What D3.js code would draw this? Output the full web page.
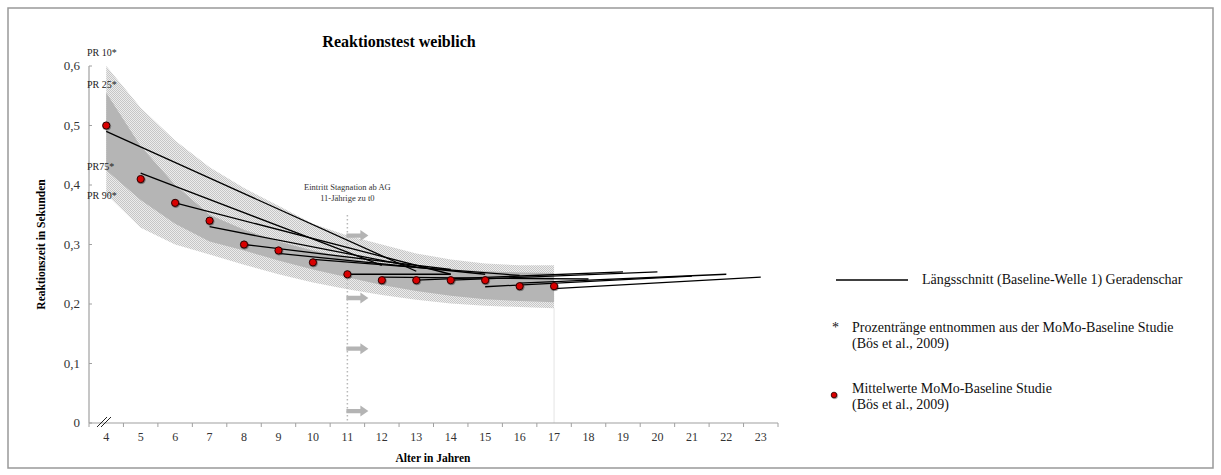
<!DOCTYPE html>
<html>
<head>
<meta charset="utf-8">
<script src="https://cdn.jsdelivr.net/npm/d3@7/dist/d3.min.js"></script>
<style>
  body { margin: 0; background: #fff; }
  svg { display: block; }
  svg text { font-family: "Liberation Serif", "DejaVu Serif", serif; }
</style>
</head>
<body>
<svg id="chart" width="1221" height="475"></svg>
<script>
// Reaktionstest weiblich — Perzentilbänder, Mittelwerte, Geradenschar

const ageLabels = ['4', '5', '6', '7', '8', '9', '10', '11', '12', '13', '14', '15', '16', '17', '18', '19', '20', '21', '22', '23']
const yTicks = [0, 0.1, 0.2, 0.3, 0.4, 0.5, 0.6]

// Prozentränge (MoMo-Baseline), Alter 4..17
const bandAges = [4, 5, 6, 7, 8, 9, 10, 11, 12, 13, 14, 15, 16, 17]
const pr10 = [0.60, 0.53, 0.475, 0.43, 0.395, 0.365, 0.335, 0.315, 0.30, 0.285, 0.275, 0.268, 0.265, 0.265]
const pr25 = [0.555, 0.465, 0.40, 0.35, 0.325, 0.305, 0.29, 0.277, 0.268, 0.262, 0.258, 0.255, 0.253, 0.252]
const pr75 = [0.425, 0.375, 0.335, 0.305, 0.29, 0.273, 0.258, 0.245, 0.232, 0.222, 0.214, 0.208, 0.205, 0.203]
const pr90 = [0.385, 0.328, 0.30, 0.283, 0.266, 0.25, 0.236, 0.225, 0.215, 0.207, 0.201, 0.197, 0.195, 0.193]

// Mittelwerte
const meanAges = [4, 5, 6, 7, 8, 9, 10, 11, 12, 13, 14, 15, 16, 17]
const meanValues = [0.50, 0.41, 0.37, 0.34, 0.30, 0.29, 0.27, 0.25, 0.24, 0.24, 0.24, 0.24, 0.23, 0.23]

// Längsschnitt Baseline -> Welle 1
const lineStartAge = [4, 5, 6, 7, 8, 9, 10, 11, 12, 13, 14, 15, 16, 17]
const lineStartVal = [0.49, 0.42, 0.37, 0.33, 0.30, 0.285, 0.275, 0.25, 0.245, 0.24, 0.24, 0.229, 0.235, 0.226]
const lineEndAge = [13, 12, 14, 13, 14, 15, 16, 14, 18, 19, 20, 21, 22, 23]
const lineEndVal = [0.255, 0.265, 0.25, 0.262, 0.258, 0.25, 0.248, 0.25, 0.242, 0.254, 0.254, 0.247, 0.25, 0.245]

const arrowVals = [0.315, 0.21, 0.125, 0.02]

const svg = d3.select('#chart')

// Frame
svg.append('rect')
  .attr('x', 8).attr('y', 8).attr('width', 1205).attr('height', 460)
  .attr('fill', 'none').attr('stroke', '#999').attr('stroke-width', 1.5)

const x = d3.scaleBand().domain(ageLabels).range([89, 778]).padding(0)
const xc = a => x(String(a)) + x.bandwidth() / 2
const y = d3.scaleLinear().domain([0, 0.6]).range([423, 66])

// Checker pattern for the outer band
const defs = svg.append('defs')
const pat = defs.append('pattern')
  .attr('id', 'hatch').attr('patternUnits', 'userSpaceOnUse')
  .attr('width', 2).attr('height', 2)
pat.append('rect').attr('width', 2).attr('height', 2).attr('fill', '#ececec')
pat.append('rect').attr('width', 1).attr('height', 1).attr('fill', '#c6c6c6')
pat.append('rect').attr('x', 1).attr('y', 1).attr('width', 1).attr('height', 1).attr('fill', '#c6c6c6')

const idx = d3.range(bandAges.length)

svg.append('path')
  .datum(idx)
  .attr('fill', 'url(#hatch)')
  .attr('d', d3.area().x(i => xc(bandAges[i])).y0(i => y(pr90[i])).y1(i => y(pr10[i])))

svg.append('path')
  .datum(idx)
  .attr('fill', '#b5b5b5')
  .attr('d', d3.area().x(i => xc(bandAges[i])).y0(i => y(pr75[i])).y1(i => y(pr25[i])))

// Vertical marker at 17
svg.append('line')
  .attr('x1', xc(17)).attr('x2', xc(17))
  .attr('y1', y(pr90[pr90.length - 1])).attr('y2', y(0))
  .attr('stroke', '#e4e4e4').attr('stroke-width', 1)

// Axes
const xAxis = svg.append('g').attr('transform', `translate(0,${y(0)})`)
xAxis.append('line').attr('x1', 89).attr('x2', 778).attr('stroke', '#a0a0a0').attr('stroke-width', 1.2)
xAxis.selectAll('line.tick')
  .data(d3.range(ageLabels.length + 1))
  .join('line')
  .attr('class', 'tick')
  .attr('x1', i => 89 + i * x.bandwidth()).attr('x2', i => 89 + i * x.bandwidth())
  .attr('y1', 0).attr('y2', 4)
  .attr('stroke', '#a0a0a0')
xAxis.selectAll('text')
  .data(ageLabels)
  .join('text')
  .attr('x', d => x(d) + x.bandwidth() / 2)
  .attr('y', 18)
  .attr('text-anchor', 'middle')
  .attr('font-size', 12)
  .attr('fill', '#333')
  .text(d => d)

// axis break
svg.append('g').attr('stroke', '#222').attr('stroke-width', 1)
  .selectAll('line').data([0, 4]).join('line')
  .attr('x1', d => 97 + d).attr('y1', y(0) + 4)
  .attr('x2', d => 107 + d).attr('y2', y(0) - 6)

const yAxis = svg.append('g')
yAxis.append('line').attr('x1', 89).attr('x2', 89).attr('y1', y(0.6)).attr('y2', y(0))
  .attr('stroke', '#a0a0a0').attr('stroke-width', 1.2)
yAxis.selectAll('line.tick')
  .data(yTicks)
  .join('line')
  .attr('class', 'tick')
  .attr('x1', 89).attr('x2', 92)
  .attr('y1', d => y(d)).attr('y2', d => y(d))
  .attr('stroke', '#a0a0a0')
yAxis.selectAll('text')
  .data(yTicks)
  .join('text')
  .attr('x', 80)
  .attr('y', d => y(d) + 4)
  .attr('text-anchor', 'end')
  .attr('font-size', 13)
  .attr('fill', '#333')
  .text(d => d === 0 ? '0' : d3.format('.1f')(d).replace('.', ','))

// Stagnation marker at 11
svg.append('line')
  .attr('x1', xc(11)).attr('x2', xc(11))
  .attr('y1', 215).attr('y2', y(0))
  .attr('stroke', '#b8b8b8').attr('stroke-width', 1.5)
  .attr('stroke-dasharray', '1.5,2.5')

svg.append('text')
  .attr('x', xc(11)).attr('y', 190)
  .attr('text-anchor', 'middle').attr('font-size', 8.5).attr('fill', '#333')
  .text('Eintritt Stagnation ab AG')
svg.append('text')
  .attr('x', xc(11)).attr('y', 201)
  .attr('text-anchor', 'middle').attr('font-size', 8.5).attr('fill', '#333')
  .text('11-Jährige zu t0')

const arrows = svg.append('g').attr('fill', '#b4b4b4')
arrowVals.forEach(v => {
  const x0 = xc(11) - 1
  const yy = y(v)
  arrows.append('path')
    .attr('d', `M${x0},${yy - 2.2}L${x0 + 14},${yy - 2.2}L${x0 + 14},${yy - 5.5}L${x0 + 22},${yy}L${x0 + 14},${yy + 5.5}L${x0 + 14},${yy + 2.2}L${x0},${yy + 2.2}Z`)
})

// Geradenschar
svg.append('g')
  .selectAll('line')
  .data(lineStartAge.map((a, i) => i))
  .join('line')
  .attr('x1', i => xc(lineStartAge[i]))
  .attr('y1', i => y(lineStartVal[i]))
  .attr('x2', i => xc(lineEndAge[i]))
  .attr('y2', i => y(lineEndVal[i]))
  .attr('stroke', '#000')
  .attr('stroke-width', 1.3)

// Mittelwerte
const shadow = defs.append('filter').attr('id', 'shadow').attr('x', '-50%').attr('y', '-50%').attr('width', '200%').attr('height', '200%')
shadow.append('feDropShadow').attr('dx', 0.6).attr('dy', 0.8).attr('stdDeviation', 0.7).attr('flood-color', '#000').attr('flood-opacity', 0.5)

svg.append('g')
  .selectAll('circle')
  .data(meanAges.map((a, i) => i))
  .join('circle')
  .attr('cx', i => xc(meanAges[i]))
  .attr('cy', i => y(meanValues[i]))
  .attr('r', 3.6)
  .attr('fill', '#d90000')
  .attr('stroke', '#2a0000')
  .attr('stroke-width', 1)
  .attr('filter', 'url(#shadow)')

// PR labels
const prLabels = [['PR 10*', 56], ['PR 25*', 88], ['PR75*', 170], ['PR 90*', 199]]
svg.append('g')
  .selectAll('text')
  .data(prLabels)
  .join('text')
  .attr('x', 87)
  .attr('y', d => d[1])
  .attr('font-size', 10)
  .attr('fill', '#222')
  .text(d => d[0])

// Titles
svg.append('text')
  .attr('x', 399).attr('y', 47)
  .attr('text-anchor', 'middle')
  .attr('font-size', 16).attr('font-weight', 'bold')
  .text('Reaktionstest weiblich')

svg.append('text')
  .attr('transform', `translate(45,${y(0.3)}) rotate(-90)`)
  .attr('text-anchor', 'middle')
  .attr('font-size', 11.5).attr('font-weight', 'bold')
  .text('Reaktionszeit in Sekunden')

svg.append('text')
  .attr('x', 433).attr('y', 462)
  .attr('text-anchor', 'middle')
  .attr('font-size', 11.5).attr('font-weight', 'bold')
  .text('Alter in Jahren')

// Legend
const lg = svg.append('g').attr('font-size', 14).attr('fill', '#111')
lg.append('line').attr('x1', 836).attr('x2', 908).attr('y1', 280).attr('y2', 280)
  .attr('stroke', '#000').attr('stroke-width', 1.3)
lg.append('text').attr('x', 922).attr('y', 284).text('Längsschnitt (Baseline-Welle 1) Geradenschar')
lg.append('text').attr('x', 832).attr('y', 332).text('*')
lg.append('text').attr('x', 852).attr('y', 332).text('Prozentränge entnommen aus der MoMo-Baseline Studie')
lg.append('text').attr('x', 852).attr('y', 348).text('(Bös et al., 2009)')
lg.append('circle').attr('cx', 834).attr('cy', 395).attr('r', 2.8)
  .attr('fill', '#d90000').attr('stroke', '#2a0000').attr('stroke-width', 0.8)
  .attr('filter', 'url(#shadow)')
lg.append('text').attr('x', 852).attr('y', 393).text('Mittelwerte MoMo-Baseline Studie')
lg.append('text').attr('x', 852).attr('y', 409).text('(Bös et al., 2009)')
</script>
</body>
</html>
